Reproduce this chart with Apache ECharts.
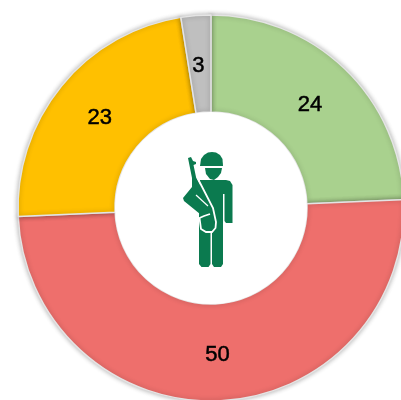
<!DOCTYPE html>
<html>
<head>
<meta charset="utf-8">
<style>
html, body { margin: 0; padding: 0; background: #fff; }
#chart { width: 401px; height: 400px; }
</style>
<script src="https://cdn.jsdelivr.net/npm/echarts@6/dist/echarts.min.js"></script>
</head>
<body>
<div id="chart"></div>
<script>
const sliceValues = [24.3, 50, 23.2, 2.5];
const sliceLabels = ['24', '50', '23', '3'];
const sliceColors = ['#A9D18E', '#EE6F6C', '#FFC000', '#BFBFBF'];
const labelOffsets = [[-3, 4], [0, 0], [3, 3], [-1, 5]];
const iconGreen = '#0B7A4F';

const chart = echarts.init(document.getElementById('chart'));

// soldier icon, drawn back to front
const soldierShapes = [
    // helmet
    [iconGreen, [[200, 166], [201, 159], [204, 155], [208, 152.5], [212, 152], [216, 152.5], [220, 155], [222.5, 159], [223, 166]]],
    // face
    [iconGreen, [[205, 168], [222, 168], [221, 173], [218, 177], [214, 180], [210, 179], [206, 174]]],
    // body and right arm
    [iconGreen, [[200, 180], [226, 180], [230, 181], [232.5, 185], [232.5, 223], [226, 223], [224.5, 221], [224.5, 194], [223, 194], [223, 264], [221, 267], [214, 267], [212, 264], [212, 232], [210.5, 232], [210.5, 264], [208.5, 267], [201.5, 267], [199, 264], [199, 216]]],
    // rifle and left arm
    [iconGreen, [[188, 158], [191, 157], [193, 161], [196, 162], [196, 164], [193.5, 165], [196, 177], [211, 206], [212, 211], [209, 214], [200, 214], [184, 201], [183, 198], [192, 187], [192, 178]]]
];
const soldierLines = [
    // sling, loops round the bag
    [[[197, 177], [213, 208], [216, 222], [215.5, 228], [212, 232], [206, 232], [201, 229], [199.5, 218], [204, 216], [210, 214]], 1.8],
    // gap between rifle and arm
    [[[196, 195], [208, 206]], 1.2]
];

const option = {
    animation: false,
    backgroundColor: '#ffffff',
    series: [
        {
            type: 'pie',
            center: [211, 208],
            radius: [96, 193],
            startAngle: 90,
            clockwise: true,
            silent: true,
            data: sliceValues.map((v, i) => ({
                value: v,
                name: sliceLabels[i],
                itemStyle: { color: sliceColors[i] },
                label: { offset: labelOffsets[i] }
            })),
            itemStyle: {
                borderColor: '#E4E4E4',
                borderWidth: 1.5,
                shadowBlur: 5,
                shadowColor: 'rgba(0,0,0,0.3)'
            },
            label: {
                show: true,
                position: 'inside',
                formatter: '{b}',
                fontFamily: 'Liberation Sans',
                fontSize: 22,
                color: '#000000',
                textBorderColor: '#000000',
                textBorderWidth: 0.5
            },
            labelLine: { show: false },
            emphasis: { disabled: true }
        }
    ],
    // white disc hides the pie shadow inside the hole
    graphic: [{
        type: 'circle',
        shape: { cx: 211, cy: 208, r: 96 },
        style: { fill: '#ffffff' },
        z: 9
    }].concat(soldierShapes.map(p => ({
        type: 'polygon',
        shape: { points: p[1] },
        style: { fill: p[0] },
        z: 10
    }))).concat(soldierLines.map(l => ({
        type: 'polyline',
        shape: { points: l[0] },
        style: { stroke: '#ffffff', lineWidth: l[1], fill: null },
        z: 11
    })))
};

chart.setOption(option);
window.addEventListener('resize', () => chart.resize());
</script>
</body>
</html>
